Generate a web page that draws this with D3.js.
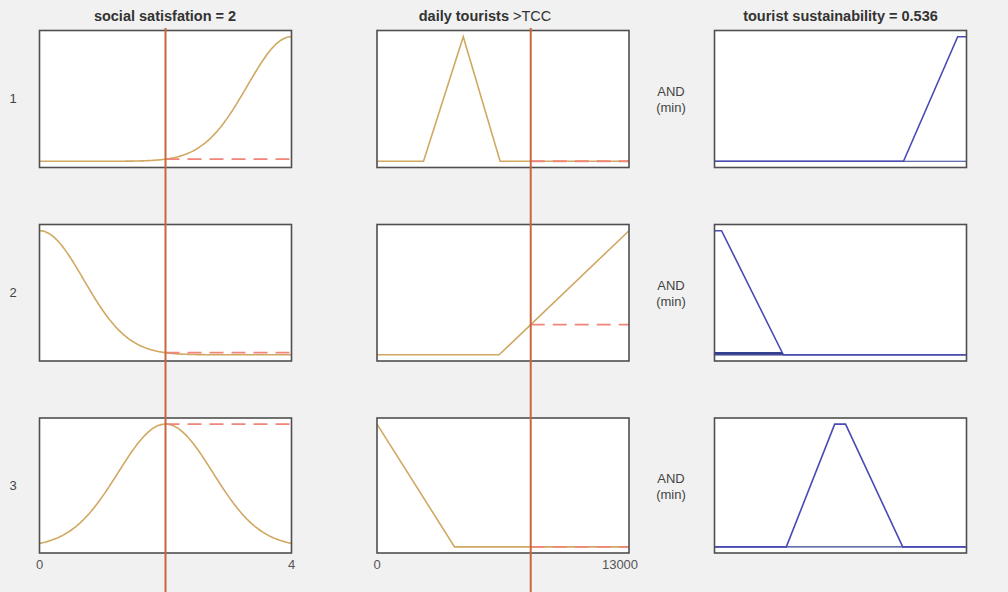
<!DOCTYPE html>
<html>
<head>
<meta charset="utf-8">
<script src="https://cdn.jsdelivr.net/npm/d3@7/dist/d3.min.js"></script>
<style>
  html, body { margin: 0; padding: 0; background: #f1f1f1; }
  svg { display: block; font-family: "Liberation Sans", Arial, sans-serif; }
</style>
</head>
<body>
<svg id="chart" width="1008" height="592"></svg>
<script>
// Fuzzy rule viewer: two inputs, one output, three rules
const ruleLabels = ["1", "2", "3"];
const satisfactionRange = [0, 4];
const touristsRange = [0, 13000];
const sustainabilityRange = [0, 1];
const satisfactionInput = 2;
const touristsInput = 7930;
const outputValue = 0.536;
const satisfactionMF = [["gaussmf", [0.7, 4]], ["gaussmf", [0.7, 0]], ["gaussmf", [0.75, 2]]];
const touristsMF = [["trimf", [2400, 4450, 6350]], ["trapmf", [6300, 13000, 13000, 13000]], ["trapmf", [0, 0, 0, 4000]]];
const sustainabilityMF = [["trapmf", [0.75, 0.965, 1, 1]], ["trapmf", [0, 0, 0.028, 0.273]], ["trapmf", [0.285, 0.477, 0.52, 0.747]]];
const satisfactionTicks = ["0", "4"];
const touristsTicks = ["0", "13000"];

function evalMF(mf, x) {
  const [type, p] = mf;
  if (type === "gaussmf") return Math.exp(-((x - p[1]) ** 2) / (2 * p[0] * p[0]));
  if (type === "trimf") {
    const [a, b, c] = p;
    if (x <= a || x >= c) return x === b ? 1 : 0;
    return x <= b ? (x - a) / (b - a) : (c - x) / (c - b);
  }
  const [a, b, c, d] = p;
  if (x < a || x > d) return 0;
  if (x < b) return (x - a) / (b - a);
  if (x <= c) return 1;
  return (d - x) / (d - c);
}

function mfSamples(mf, dom) {
  let xs;
  if (mf[0] === "gaussmf") {
    xs = d3.range(0, 241).map(i => dom[0] + (dom[1] - dom[0]) * i / 240);
  } else {
    xs = [dom[0], dom[1]].concat(mf[1]).filter(v => v >= dom[0] && v <= dom[1]);
    xs = Array.from(new Set(xs)).sort((a, b) => a - b);
  }
  return xs.map(x => [x, evalMF(mf, x)]);
}

const svg = d3.select("#chart");

const colX = [[39.5, 291.5], [377, 629], [714.5, 966.5]];
const rowY = [[30.5, 167.5], [224.5, 361], [418, 553]];
const inputColor = "#d0a862";
const outputColor = "#4a4ab4";
const fillColor = "#34408e";
const cursorColor = "#c8673e";
const dashColor = "#f0857a";

const inputs = [
  { mfs: satisfactionMF, dom: satisfactionRange, val: satisfactionInput },
  { mfs: touristsMF, dom: touristsRange, val: touristsInput }
];

function yScaleFor(r) {
  return d3.scaleLinear().domain([-0.05, 1.05]).range([rowY[r][1], rowY[r][0]]);
}

const line = (xs, ys) => d3.line().x(d => xs(d[0])).y(d => ys(d[1]));

const firing = ruleLabels.map((_, r) =>
  Math.min(...inputs.map(inp => evalMF(inp.mfs[r], inp.val))));

// panel backgrounds
ruleLabels.forEach((lab, r) => {
  colX.forEach(cx => {
    svg.append("rect")
      .attr("x", cx[0]).attr("y", rowY[r][0])
      .attr("width", cx[1] - cx[0]).attr("height", rowY[r][1] - rowY[r][0])
      .attr("fill", "#ffffff");
  });
});

// input columns: membership curves and the level each rule reads
inputs.forEach((inp, c) => {
  const xs = d3.scaleLinear().domain(inp.dom).range(colX[c]);
  ruleLabels.forEach((_, r) => {
    const ys = yScaleFor(r);
    const g = svg.append("g");
    const mu = evalMF(inp.mfs[r], inp.val);
    g.append("path")
      .attr("d", line(xs, ys)(mfSamples(inp.mfs[r], inp.dom)))
      .attr("fill", "none").attr("stroke", inputColor).attr("stroke-width", 1.6);
    g.append("line")
      .attr("x1", xs(inp.val)).attr("x2", xs(inp.dom[1]))
      .attr("y1", ys(mu)).attr("y2", ys(mu))
      .attr("stroke", dashColor).attr("stroke-width", 1.8)
      .attr("stroke-dasharray", "14,8");
  });
});

// output column: clipped consequent and full membership outline
{
  const xs = d3.scaleLinear().domain(sustainabilityRange).range(colX[2]);
  ruleLabels.forEach((_, r) => {
    const ys = yScaleFor(r);
    const pts = d3.range(0, 401).map(i => sustainabilityRange[0] + (sustainabilityRange[1] - sustainabilityRange[0]) * i / 400);
    const area = d3.area().x(d => xs(d)).y0(ys(0))
      .y1(d => ys(Math.min(firing[r], evalMF(sustainabilityMF[r], d))));
    svg.append("path").attr("d", area(pts))
      .attr("fill", fillColor).attr("stroke", fillColor).attr("stroke-width", 1.2);
    svg.append("path")
      .attr("d", line(xs, ys)(mfSamples(sustainabilityMF[r], sustainabilityRange)))
      .attr("fill", "none").attr("stroke", outputColor).attr("stroke-width", 1.6);
  });
}

// panel borders, rule numbers and connective labels
ruleLabels.forEach((lab, r) => {
  colX.forEach(cx => {
    svg.append("rect")
      .attr("x", cx[0]).attr("y", rowY[r][0])
      .attr("width", cx[1] - cx[0]).attr("height", rowY[r][1] - rowY[r][0])
      .attr("fill", "none").attr("stroke", "#4f4f4f").attr("stroke-width", 1.6);
  });
  const midY = (rowY[r][0] + rowY[r][1]) / 2;
  svg.append("text").attr("x", 13).attr("y", midY + 4)
    .attr("text-anchor", "middle").attr("font-size", 13).attr("fill", "#444")
    .text(lab);
  const and = svg.append("text").attr("text-anchor", "middle")
    .attr("font-size", 13).attr("fill", "#444");
  and.append("tspan").attr("x", 671).attr("y", midY - 3).text("AND");
  and.append("tspan").attr("x", 671).attr("y", midY + 13).text("(min)");
});

// input cursors
inputs.forEach((inp, c) => {
  const xs = d3.scaleLinear().domain(inp.dom).range(colX[c]);
  svg.append("line")
    .attr("x1", xs(inp.val)).attr("x2", xs(inp.val))
    .attr("y1", 28).attr("y2", 592)
    .attr("stroke", cursorColor).attr("stroke-width", 2);
});

// range labels under the input columns
[satisfactionTicks, touristsTicks].forEach((ticks, c) => {
  svg.append("text").attr("x", colX[c][0]).attr("y", 569)
    .attr("text-anchor", "middle").attr("font-size", 13).attr("fill", "#555")
    .text(ticks[0]);
  svg.append("text").attr("x", c === 1 ? 620 : colX[c][1]).attr("y", 569)
    .attr("text-anchor", "middle").attr("font-size", 13).attr("fill", "#555")
    .text(ticks[1]);
});

// column titles
svg.append("text").attr("x", 165).attr("y", 21).attr("text-anchor", "middle")
  .attr("font-size", 14.5).attr("font-weight", "bold").attr("fill", "#333")
  .text("social satisfation = " + satisfactionInput);
const t2 = svg.append("text").attr("x", 485).attr("y", 21).attr("text-anchor", "middle")
  .attr("font-size", 14.5).attr("fill", "#333");
t2.append("tspan").attr("font-weight", "bold").text("daily tourists ");
t2.append("tspan").text(">TCC");
svg.append("text").attr("x", 840.5).attr("y", 21).attr("text-anchor", "middle")
  .attr("font-size", 14.5).attr("font-weight", "bold").attr("fill", "#333")
  .text("tourist sustainability = " + outputValue);
</script>
</body>
</html>
